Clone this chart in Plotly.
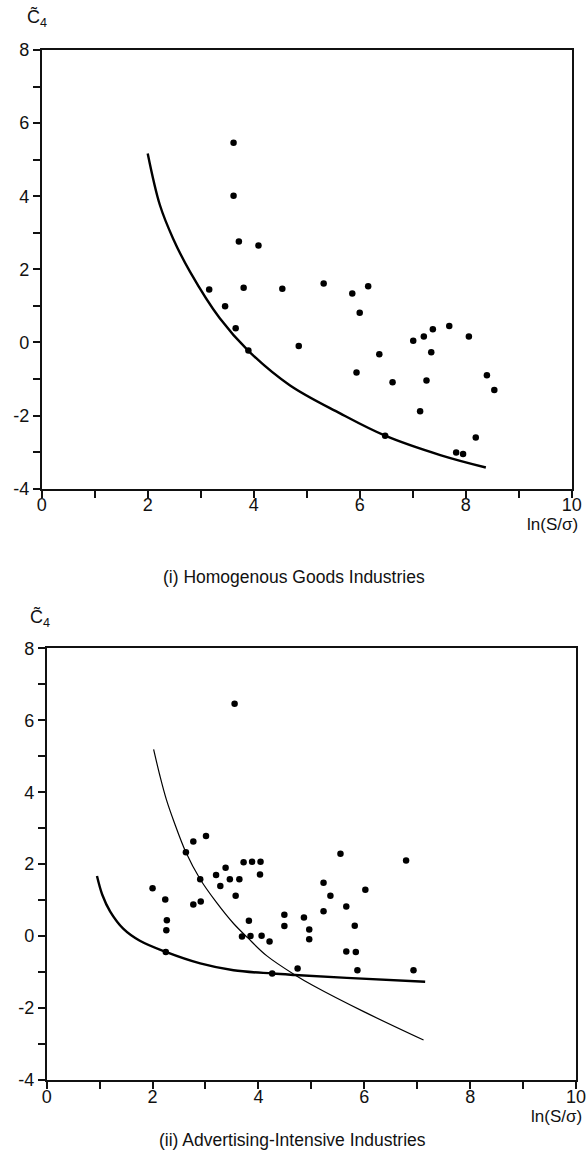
import plotly.graph_objects as go

# ---------- data: panel (i) Homogenous Goods Industries ----------
homog_x = [3.62, 3.62, 3.72, 4.09, 3.16, 3.46, 3.81, 4.54, 3.66, 3.90, 4.85,
           5.32, 5.86, 6.16, 6.00, 5.94, 6.37, 6.62, 7.01, 7.21, 7.38, 7.35,
           7.26, 7.14, 7.69, 8.06, 8.40, 8.54, 8.19, 7.82, 7.95, 6.48]
homog_y = [5.46, 4.01, 2.76, 2.65, 1.45, 0.99, 1.50, 1.47, 0.39, -0.22, -0.10,
           1.61, 1.34, 1.54, 0.81, -0.82, -0.32, -1.09, 0.05, 0.16, 0.36, -0.27,
           -1.04, -1.88, 0.45, 0.16, -0.90, -1.30, -2.60, -3.01, -3.05, -2.55]
homog_curve_x = [2.00, 2.23, 2.48, 2.80, 3.36, 3.90, 4.68, 5.63, 6.48, 7.52, 8.38]
homog_curve_y = [5.17, 3.76, 2.84, 1.93, 0.66, -0.23, -1.17, -1.94, -2.55, -3.08, -3.42]

# ---------- data: panel (ii) Advertising-Intensive Industries ----------
adv_x = [3.55, 2.77, 3.01, 2.63, 3.72, 3.88, 4.04, 3.38, 3.20, 2.90, 3.46, 3.64,
         4.03, 3.28, 3.57, 2.00, 2.24, 2.91, 2.77, 2.27, 2.26, 3.82, 4.49, 4.49,
         3.69, 3.85, 4.06, 4.21, 2.25, 4.26, 4.74, 5.55, 6.79, 5.23, 5.36, 6.02,
         5.23, 5.66, 4.86, 4.96, 4.96, 5.82, 5.66, 5.84, 5.87, 6.93]
adv_y = [6.46, 2.63, 2.78, 2.33, 2.05, 2.07, 2.07, 1.90, 1.70, 1.58, 1.58, 1.58,
         1.71, 1.39, 1.12, 1.33, 1.02, 0.96, 0.88, 0.44, 0.16, 0.43, 0.59, 0.28,
         -0.01, 0.00, 0.01, -0.15, -0.44, -1.04, -0.90, 2.29, 2.10, 1.48, 1.12, 1.29,
         0.69, 0.82, 0.52, 0.18, -0.09, 0.29, -0.43, -0.44, -0.95, -0.95]
adv_thick_x = [0.95, 1.05, 1.20, 1.45, 1.76, 2.25, 2.90, 3.53, 4.26, 4.69, 5.67, 7.15]
adv_thick_y = [1.67, 1.15, 0.68, 0.20, -0.13, -0.44, -0.76, -0.95, -1.04, -1.08, -1.16, -1.27]
adv_thin_x = [2.02, 2.14, 2.26, 2.40, 2.63, 2.90, 3.20, 3.53, 3.80, 4.16, 4.69, 5.04, 5.99, 7.12]
adv_thin_y = [5.19, 4.45, 3.80, 3.20, 2.33, 1.58, 0.95, 0.35, -0.05, -0.55, -1.08, -1.38, -2.10, -2.89]

# ---------- ticks / labels ----------
x_tickvals = [0, 2, 4, 6, 8, 10]
x_ticktext = ["0", "2", "4", "6", "8", "10"]
y_tickvals = [-4, -2, 0, 2, 4, 6, 8]
y_ticktext = ["-4", "-2", "0", "2", "4", "6", "8"]
captions = ["(i) Homogenous Goods Industries", "(ii) Advertising-Intensive Industries"]
x_title = "ln(S/σ)"
y_title = "C\u0303<sub>4</sub>"

W, H = 587, 1156
FONT = "Liberation Sans, Arial, Helvetica, sans-serif"
INK = "#111111"

fig = go.Figure()

def mk_scatter(x, y, xa, ya):
    return go.Scatter(x=x, y=y, mode="markers", xaxis=xa, yaxis=ya,
                      marker=dict(color="black", size=6.5), showlegend=False,
                      hoverinfo="skip")

def mk_line(x, y, xa, ya, w):
    return go.Scatter(x=x, y=y, mode="lines", xaxis=xa, yaxis=ya,
                      line=dict(color="black", width=w, shape="spline", smoothing=1.0),
                      showlegend=False, hoverinfo="skip")

fig.add_trace(mk_line(homog_curve_x, homog_curve_y, "x", "y", 2.4))
fig.add_trace(mk_scatter(homog_x, homog_y, "x", "y"))
fig.add_trace(mk_line(adv_thick_x, adv_thick_y, "x2", "y2", 2.4))
fig.add_trace(mk_line(adv_thin_x, adv_thin_y, "x2", "y2", 1.2))
fig.add_trace(mk_scatter(adv_x, adv_y, "x2", "y2"))

def px_x(p):
    return p / W

def px_y(p):
    return 1 - p / H

axis_common = dict(showgrid=False, zeroline=False, showline=True, mirror=True,
                   automargin=False,
                   linecolor=INK, linewidth=1.8, ticks="outside", ticklen=7,
                   tickwidth=1.6, tickcolor=INK,
                   tickfont=dict(family=FONT, size=18, color=INK),
                   minor=dict(ticks="outside", dtick=1, ticklen=7, tickwidth=1.6,
                              tickcolor=INK, showgrid=False))

fig.update_layout(
    width=W, height=H, margin=dict(l=0, r=0, t=0, b=0, autoexpand=False),
    paper_bgcolor="white", plot_bgcolor="white",
    xaxis=dict(domain=[px_x(41.7), px_x(571.7)], range=[0, 10], anchor="y",
               tickvals=x_tickvals, ticktext=x_ticktext, ticklabelstandoff=-8,
               **axis_common),
    yaxis=dict(domain=[px_y(488.7), px_y(50)], range=[-4, 8], anchor="x",
               tickvals=y_tickvals, ticktext=y_ticktext, **axis_common),
    xaxis2=dict(domain=[px_x(46.7), px_x(576)], range=[0, 10], anchor="y2",
                tickvals=x_tickvals, ticktext=x_ticktext, ticklabelstandoff=-8,
                **axis_common),
    yaxis2=dict(domain=[px_y(1080), px_y(648.3)], range=[-4, 8], anchor="x2",
                tickvals=y_tickvals, ticktext=y_ticktext, **axis_common),
)

ann_font = dict(family=FONT, color=INK)
annotations = [
    dict(x=px_x(25), y=px_y(32), text=y_title, xanchor="left", yanchor="bottom",
         font=dict(size=18, **ann_font)),
    dict(x=px_x(28), y=px_y(632), text=y_title, xanchor="left", yanchor="bottom",
         font=dict(size=18, **ann_font)),
    dict(x=px_x(580), y=px_y(524), text=x_title, xanchor="right", yanchor="middle",
         font=dict(size=17, **ann_font)),
    dict(x=px_x(584), y=px_y(1116), text=x_title, xanchor="right", yanchor="middle",
         font=dict(size=17, **ann_font)),
    dict(x=px_x(294), y=px_y(577), text=captions[0], xanchor="center", yanchor="middle",
         font=dict(size=17.5, **ann_font)),
    dict(x=px_x(292), y=px_y(1140), text=captions[1], xanchor="center", yanchor="middle",
         font=dict(size=17.5, **ann_font)),
]
fig.update_layout(annotations=[dict(xref="paper", yref="paper", showarrow=False, **a)
                               for a in annotations])

fig.write_html(
    "out.html",
    config={"displayModeBar": False},
    post_script="document.body.style.margin='0';document.body.style.overflow='hidden';",
)
